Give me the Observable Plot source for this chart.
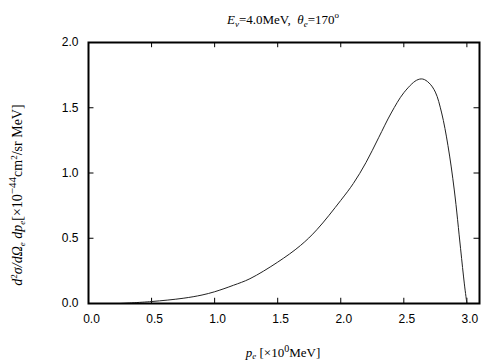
<!DOCTYPE html>
<html>
<head>
<meta charset="utf-8">
<script src="https://cdn.jsdelivr.net/npm/d3@7"></script>
<script src="https://cdn.jsdelivr.net/npm/@observablehq/plot@0.6"></script>
<style>
  html, body { margin: 0; padding: 0; background: white; }
</style>
</head>
<body>
<div id="chart"></div>
<script>
// Electron momentum p_e [MeV]
const momentum = [0.25, 0.5, 0.75, 0.9, 1.0, 1.15, 1.28, 1.5, 1.68, 1.81, 2.0, 2.1, 2.2, 2.3, 2.4, 2.5, 2.6, 2.65, 2.7, 2.75, 2.8, 2.85, 2.9, 2.95, 2.98, 3.0];
// d²σ/dΩ_e dp_e [×10⁻⁴⁴ cm²/sr MeV]
const crossSection = [0.0, 0.015, 0.04, 0.065, 0.09, 0.14, 0.19, 0.317, 0.444, 0.565, 0.79, 0.92, 1.08, 1.27, 1.46, 1.615, 1.71, 1.72, 1.69, 1.62, 1.46, 1.21, 0.87, 0.42, 0.15, 0.0];
const xTicks = [0.0, 0.5, 1.0, 1.5, 2.0, 2.5, 3.0];
const yTicks = [0.0, 0.5, 1.0, 1.5, 2.0];
const xDomain = [0, 3.1];
const yDomain = [0, 2];

const rows = momentum.map((p, i) => ({p, s: crossSection[i]}));
const fmt = d => d.toFixed(1);
const tx = (xDomain[1] - xDomain[0]) * 0.014;
const ty = (yDomain[1] - yDomain[0]) * 0.02;

const chart = Plot.plot({
  width: 504,
  height: 360,
  marginLeft: 88,
  marginRight: 25,
  marginTop: 42,
  marginBottom: 57,
  style: {fontFamily: "'Liberation Sans', Arial, sans-serif", fontSize: "12px", background: "white", color: "black", overflow: "visible"},
  x: {domain: xDomain},
  y: {domain: yDomain},
  marks: [
    Plot.axisX(xTicks, {tickSize: 0, tickPadding: 11, tickFormat: fmt, label: null, fontSize: 12, dx: 3}),
    Plot.axisY(yTicks, {tickSize: 0, tickPadding: 10, tickFormat: fmt, label: null, fontSize: 12}),
    Plot.ruleX(xTicks, {x: d => d, y1: yDomain[0], y2: yDomain[0] + ty, stroke: "black", strokeWidth: 1}),
    Plot.ruleX(xTicks, {x: d => d, y1: yDomain[1], y2: yDomain[1] - ty, stroke: "black", strokeWidth: 1}),
    Plot.ruleY(yTicks, {y: d => d, x1: xDomain[0], x2: xDomain[0] + tx, stroke: "black", strokeWidth: 1}),
    Plot.ruleY(yTicks, {y: d => d, x1: xDomain[1], x2: xDomain[1] - tx, stroke: "black", strokeWidth: 1}),
    Plot.line(rows, {x: "p", y: "s", stroke: "#222", strokeWidth: 1, curve: "catmull-rom"}),
    Plot.frame({stroke: "black", strokeWidth: 2})
  ]
});

document.getElementById("chart").appendChild(chart);

function rich(textSel, parts) {
  let cur = 0;
  for (const p of parts) {
    const s = p.shift || 0;
    const ts = textSel.append("tspan").text(p.t);
    if (s !== cur) { ts.attr("dy", s - cur); cur = s; }
    if (p.italic) ts.attr("font-style", "italic");
    if (p.size) ts.attr("font-size", p.size);
  }
}

const svg = d3.select(chart);
const serif = "'Liberation Serif', 'Times New Roman', serif";

// Title
const title = svg.append("text")
  .attr("x", 283).attr("y", 24)
  .attr("text-anchor", "middle")
  .attr("font-family", serif).attr("font-size", 13).attr("fill", "black");
rich(title, [
  {t: "E", italic: true},
  {t: "ν", italic: true, shift: 3, size: 9},
  {t: "=4.0MeV,  "},
  {t: "θ", italic: true},
  {t: "e", italic: true, shift: 3, size: 9},
  {t: "=170"},
  {t: "o", shift: -6, size: 9}
]);

// Y label
const ylab = svg.append("text")
  .attr("transform", "translate(22,195) rotate(-90)")
  .attr("text-anchor", "middle")
  .attr("font-family", serif).attr("font-size", 14).attr("fill", "black");
rich(ylab, [
  {t: "d", italic: true},
  {t: "2", shift: -5, size: 9},
  {t: "σ/dΩ", italic: true},
  {t: "e", italic: true, shift: 3, size: 9},
  {t: " dp", italic: true},
  {t: "e", italic: true, shift: 3, size: 9},
  {t: "[×10"},
  {t: "−44", shift: -6, size: 11},
  {t: "cm"},
  {t: "2", shift: -5, size: 9},
  {t: "/sr MeV]"}
]);

// X label
const xlab = svg.append("text")
  .attr("x", 283).attr("y", 357)
  .attr("text-anchor", "middle")
  .attr("font-family", serif).attr("font-size", 13).attr("fill", "black");
rich(xlab, [
  {t: "p", italic: true},
  {t: "e", italic: true, shift: 2, size: 9},
  {t: " [×10"},
  {t: "0", shift: -5, size: 10},
  {t: "MeV]"}
]);
</script>
</body>
</html>
